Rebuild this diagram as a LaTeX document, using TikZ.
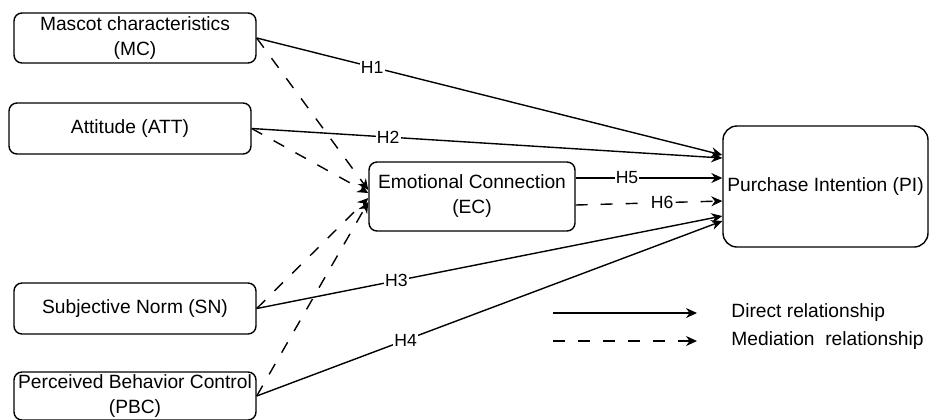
\documentclass[tikz,border=0pt]{standalone}
\usepackage{fontspec}
\setmainfont{Liberation Sans}
\usetikzlibrary{arrows.meta,calc}

\tikzset{
  box/.style={draw=black, line width=0.7pt, rounded corners=4pt, fill=white,
              align=center, inner sep=0pt, font=\fontsize{9.6}{12.5}\selectfont},
  direct/.style={draw=black, line width=0.7pt, -{Stealth[length=5.5pt,width=5pt]}},
  mediated/.style={direct, dash pattern=on 6pt off 6.5pt},
  hlabel/.style={fill=white, inner sep=0.6pt, font=\fontsize{8.8}{10}\selectfont},
  legendtext/.style={anchor=west, inner sep=0pt, font=\fontsize{9.6}{12}\selectfont}
}

\begin{document}
\begin{tikzpicture}[x=0.5pt,y=-0.5pt]
  \useasboundingbox (0,0) rectangle (929,419);
  \begin{scope}
  \clip (0,0) rectangle (929,419);

  % constructs
  \node[box, minimum width=121pt, minimum height=25pt] (MC)  at (135,38)    {Mascot characteristics\\(MC)};
  \node[box, minimum width=121pt, minimum height=25.5pt] (ATT) at (130,128.5) {Attitude (ATT)};
  \node[box, minimum width=121pt, minimum height=25.5pt] (SN)  at (135,308.5) {Subjective Norm (SN)};
  \node[box, minimum width=121pt, minimum height=24pt] (PBC) at (135,396)  {Perceived Behavior Control\\(PBC)};
  \node[box, minimum width=103pt, minimum height=34.5pt] (EC) at (472,196.5) {Emotional Connection\\(EC)};
  \node[box, minimum width=102.5pt, minimum height=60.5pt, rounded corners=7pt] (PI) at (825.5,186.5) {Purchase Intention (PI)};

  % mediation paths into EC
  \draw[mediated] (MC.east)  -- ($(EC.west)+(0,-6.5)$);
  \draw[mediated] (ATT.east) -- ($(EC.west)+(0,-3.5)$);
  \draw[mediated] (SN.east)  -- ($(EC.west)+(0,1.5)$);
  \draw[mediated] (PBC.east) -- ($(EC.west)+(0,5.5)$);

  % direct paths into PI
  \draw[direct] (MC.east)  -- node[hlabel, pos=0.248] {H1} ($(PI.west)+(0,-31.5)$);
  \draw[direct] (ATT.east) -- node[hlabel, pos=0.29]  {H2} ($(PI.west)+(0,-28.5)$);
  \draw[direct] (SN.east)  -- node[hlabel, pos=0.30]  {H3} ($(PI.west)+(0,29.5)$);
  \draw[direct] (PBC.east) -- node[hlabel, pos=0.32]  {H4} ($(PI.west)+(0,34.5)$);
  \draw[direct] ($(EC.east)+(0,-18.5)$) -- node[hlabel, pos=0.35] {H5} ($(PI.west)+(0,-8.5)$);
  \draw[mediated] ($(EC.east)+(0,8.5)$) -- node[hlabel, pos=0.59] {H6} ($(PI.west)+(0,14.5)$);

  % legend
  \coordinate (legA1) at (553,313);
  \coordinate (legB1) at (697,313);
  \coordinate (legA2) at (553,341);
  \coordinate (legB2) at (697,341);
  \draw[direct] (legA1) -- (legB1);
  \draw[mediated] (legA2) -- (legB2);
  \node[legendtext] (legT1) at (731,313) {Direct relationship};
  \node[legendtext] (legT2) at (731,341) {Mediation\ \ relationship};
  \end{scope}
\end{tikzpicture}
\end{document}
